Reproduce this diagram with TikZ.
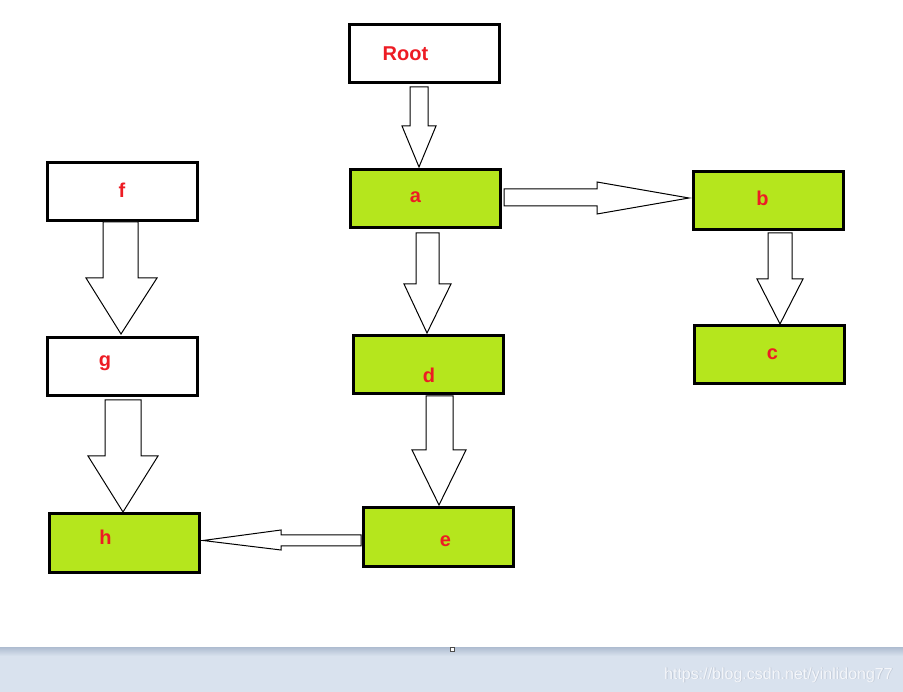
\documentclass[tikz,border=0pt]{standalone}
\usepackage{fontspec}
\setmainfont{Liberation Sans}
\definecolor{lime}{HTML}{B5E61D}
\definecolor{lblred}{HTML}{ED1C24}
\definecolor{barblue}{HTML}{D9E2EE}
\definecolor{bardark}{HTML}{AEBCD0}
\definecolor{wmark}{HTML}{F4F6FA}
\definecolor{wshadow}{HTML}{BFC8D6}
\begin{document}
\begin{tikzpicture}[x=1pt,y=-1pt,
  box/.style={draw=black, line width=3pt, minimum width=150pt, minimum height=58pt, inner sep=0pt},
  gbox/.style={box, fill=lime},
  wbox/.style={box, fill=white},
  lbl/.style={text=lblred, font=\bfseries\fontsize{20}{24}\selectfont, inner sep=0pt, anchor=base},
  blk/.style={draw=black, fill=white, line width=1pt, line join=miter},
  wm/.style={font=\fontsize{16}{18}\selectfont, inner sep=0pt, anchor=base east}
]
\useasboundingbox (0,0) rectangle (903,692);
\fill[white] (0,0) rectangle (903,692);

% boxes
\node[wbox] (root) at (424,53.5) {};
\node[gbox] (a) at (425,198.5) {};
\node[gbox] (b) at (768,201) {};
\node[gbox] (c) at (769.5,354.5) {};
\node[gbox] (d) at (428,364.5) {};
\node[gbox] (e) at (438,537) {};
\node[wbox] (f) at (122,192) {};
\node[wbox] (g) at (122,367) {};
\node[gbox] (h) at (124.5,543) {};

% labels
\node[lbl] (troot) at (405.5,61) {Root};
\node[lbl] (ta) at (415.5,203) {a};
\node[lbl] (tb) at (762.5,206) {b};
\node[lbl] (tc) at (772.5,360) {c};
\node[lbl] (td) at (429,383) {d};
\node[lbl] (te) at (445.5,547) {e};
\node[lbl] (tf) at (122,198) {f};
\node[lbl] (tg) at (105,367) {g};
\node[lbl] (th) at (105.5,544) {h};

% block arrows
% Root -> a
\draw[blk] (410,87) -- (428,87) -- (428,126) -- (436,126) -- (419,167) -- (402,126) -- (410,126) -- cycle;
% a -> b
\draw[blk] (504,189) -- (597,189) -- (597,182) -- (689,198) -- (597,214) -- (597,206) -- (504,206) -- cycle;
% a -> d
\draw[blk] (416,233) -- (439,233) -- (439,284) -- (451,284) -- (427,333) -- (404,284) -- (416,284) -- cycle;
% d -> e
\draw[blk] (426,396) -- (453,396) -- (453,450) -- (466,450) -- (439,505) -- (412,450) -- (426,450) -- cycle;
% b -> c
\draw[blk] (768,233) -- (792,233) -- (792,279) -- (803,279) -- (780,324) -- (757,279) -- (768,279) -- cycle;
% f -> g
\draw[blk] (103,222) -- (138,222) -- (138,278) -- (157,278) -- (121,334) -- (86,278) -- (103,278) -- cycle;
% g -> h
\draw[blk] (105,400) -- (141,400) -- (141,456) -- (158,456) -- (123,512) -- (88,456) -- (105,456) -- cycle;
% e -> h
\draw[blk] (361,535) -- (281,535) -- (281,530) -- (203,540.5) -- (281,550) -- (281,546) -- (361,546) -- cycle;

% bottom bar
\fill[barblue] (0,647) rectangle (903,692);
\shade[top color=bardark, bottom color=barblue] (0,647) rectangle (903,656);
\node[draw=black!70, fill=white, line width=1pt, minimum size=4pt, inner sep=0pt] (sq) at (452.5,649.5) {};
\node[wm, text=wshadow] (wms) at (893.8,679.8) {https://blog.csdn.net/yinlidong77};
\node[wm, text=wmark] (wmt) at (893,679) {https://blog.csdn.net/yinlidong77};
\end{tikzpicture}
\end{document}
